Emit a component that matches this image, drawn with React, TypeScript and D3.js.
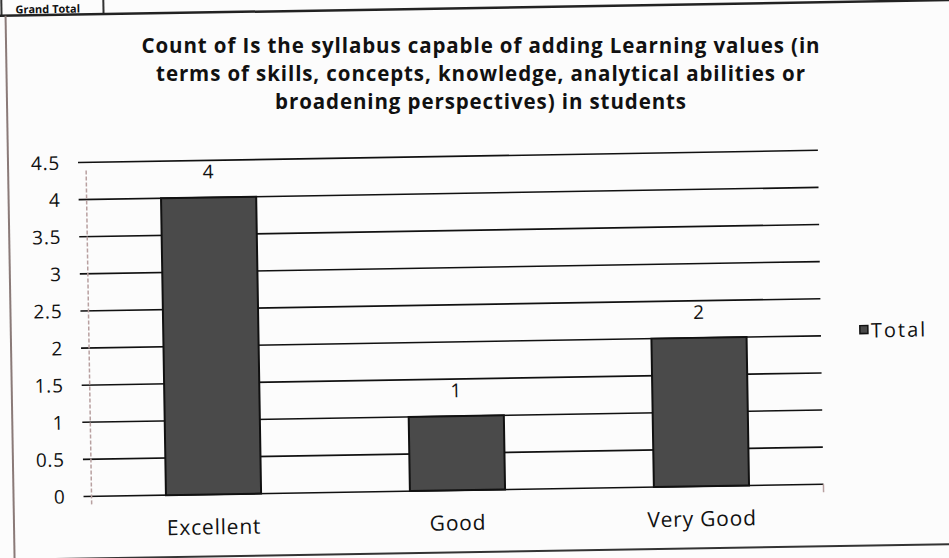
import React from "react";
import * as d3 from "d3";

const categories = ["Excellent", "Good", "Very Good"];
const values = [4, 1, 2];
const yTicks = [0, 0.5, 1, 1.5, 2, 2.5, 3, 3.5, 4, 4.5];
const titleLines = [
  "Count of Is the syllabus capable of adding Learning values (in",
  "terms of skills, concepts, knowledge, analytical abilities or",
  "broadening perspectives) in students",
];
const legendLabel = "Total";
const headerLabel = "Grand Total";

const W = 949;
const H = 558;
const FONT = "'Open Sans', Lato, sans-serif";

export default function App() {
  const x = d3
    .scaleBand<string>()
    .domain(categories)
    .range([88, 820])
    .paddingInner(0.61)
    .paddingOuter(0.305);
  const y = d3.scaleLinear().domain([0, 4.5]).range([490, 156]);

  return (
    <svg
      width={W}
      height={H}
      style={{ position: "absolute", left: 0, top: 0, background: "#fcfcfc" }}
    >
      <rect x={0} y={0} width={W} height={H} fill="#fcfcfc" />

      {/* title (kept level so lines do not collide) */}
      {titleLines.map((t, i) => (
        <text
          key={i}
          x={481}
          y={53 + i * 28}
          textAnchor="middle"
          fontFamily={FONT}
          fontWeight={700}
          fontSize={20.5}
          letterSpacing={0.9}
          fill="#111"
        >
          {t}
        </text>
      ))}

      <g transform={`rotate(-0.95, 475, 280)`}>
        {/* header box */}
        <text
          x={20}
          y={6}
          fontFamily={FONT}
          fontWeight={700}
          fontSize={11}
          fill="#111"
        >
          {headerLabel}
        </text>
        <line x1={6} x2={6} y1={-10} y2={8} stroke="#333" strokeWidth={2} />
        <line x1={108} x2={108} y1={-10} y2={8} stroke="#333" strokeWidth={2} />
        <line x1={0} x2={980} y1={8} y2={8} stroke="#222" strokeWidth={2.5} />
        {/* left frame */}
        <line x1={10} x2={10} y1={8} y2={570} stroke="#8a7a78" strokeWidth={2} />
        {/* bottom frame */}
        <line x1={0} x2={980} y1={552} y2={552} stroke="#333" strokeWidth={2} />

        {/* gridlines */}
        {yTicks.map((t) => (
          <line
            key={t}
            x1={80}
            x2={820}
            y1={y(t)}
            y2={y(t)}
            stroke="#111"
            strokeWidth={1.6}
          />
        ))}
        {/* y axis */}
        <line
          x1={88}
          x2={88}
          y1={y(4.5) + 8}
          y2={y(0) + 8}
          stroke="#b8a0a0"
          strokeWidth={1.5}
          strokeDasharray="4 2"
        />
        <line x1={820} x2={820} y1={y(0)} y2={y(0) + 8} stroke="#b8a0a0" strokeWidth={1.5} />

        {/* y tick labels */}
        {yTicks.map((t) => (
          <text
            key={t}
            x={62}
            y={y(t)}
            dy="0.36em"
            textAnchor="end"
            fontFamily={FONT}
            fontSize={19}
            letterSpacing={0.8}
            fill="#111"
          >
            {t}
          </text>
        ))}

        {/* bars */}
        {categories.map((c, i) => (
          <rect
            key={c}
            x={x(c)}
            y={y(values[i])}
            width={x.bandwidth()}
            height={y(0) - y(values[i])}
            fill="#4a4a4a"
            stroke="#111"
            strokeWidth={2}
          />
        ))}

        {/* data labels */}
        {categories.map((c, i) => (
          <text
            key={c}
            x={(x(c) as number) + x.bandwidth() / 2}
            y={y(values[i]) - 19}
            textAnchor="middle"
            fontFamily={FONT}
            fontSize={19}
            fill="#111"
          >
            {values[i]}
          </text>
        ))}

        {/* category labels */}
        {categories.map((c) => (
          <text
            key={c}
            x={(x(c) as number) + x.bandwidth() / 2}
            y={530}
            textAnchor="middle"
            fontFamily={FONT}
            fontSize={21}
            letterSpacing={0.8}
            fill="#111"
          >
            {c}
          </text>
        ))}

        {/* legend */}
        <rect x={859} y={332} width={8} height={8} fill="#4a4a4a" stroke="#111" strokeWidth={1.5} />
        <text x={870} y={344} fontFamily={FONT} fontSize={20} letterSpacing={2} fill="#111">
          {legendLabel}
        </text>
      </g>
    </svg>
  );
}
